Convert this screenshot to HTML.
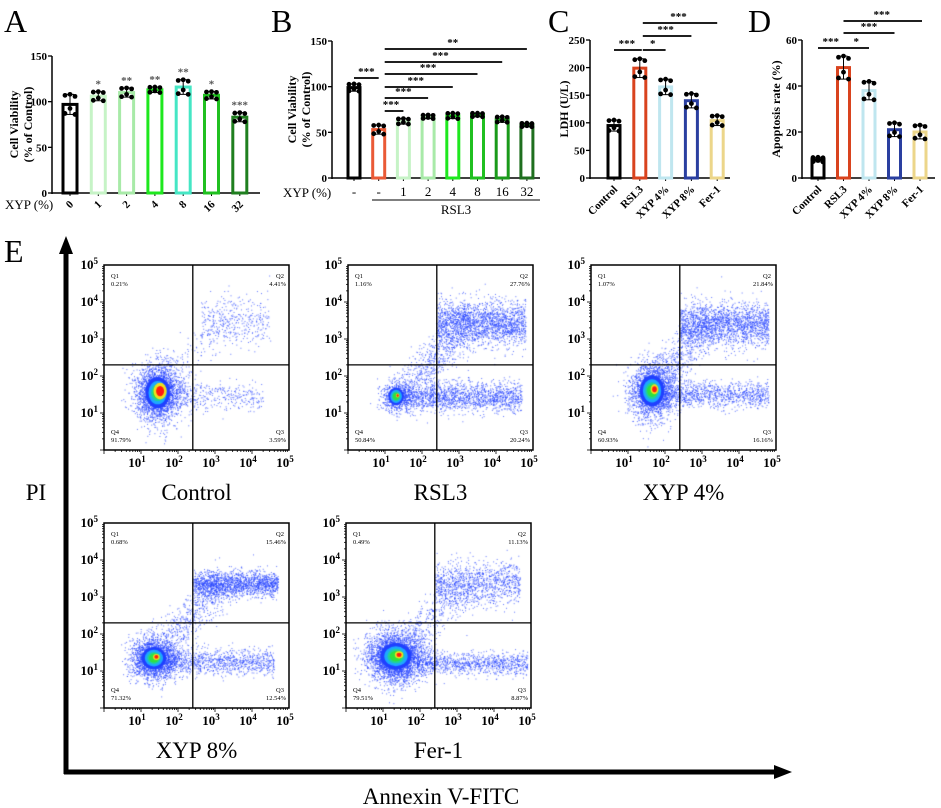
<!DOCTYPE html>
<html><head><meta charset="utf-8">
<style>
html,body{margin:0;padding:0;background:#fff;}
#wrap{position:relative;width:941px;height:808px;overflow:hidden;font-family:"Liberation Serif",serif;}
svg{position:absolute;left:0;top:0;}
svg text{font-family:"Liberation Serif",serif;}
canvas{position:absolute;left:0;top:0;}
</style></head>
<body>
<div id="wrap">
<canvas id="cv" width="941" height="808"></canvas>
<svg id="sv" width="941" height="808" xmlns="http://www.w3.org/2000/svg"></svg>
</div>
<script>
// ---------- data ----------
const aCats = ["0","1","2","4","8","16","32"];
const aVals = [97,106,110,113,116,107,83];
const aErr = [11,5,5,3,8,4,5];
const aStars = ["","*","**","**","**","*","***"];
const aColors = ["#000","#c6f3c6","#a8eaa8","#1ee81e","#45e6c4","#20c020","#1f7f1f"];

const bCats = ["-","-","1","2","4","8","16","32"];
const bVals = [99,53,62,67,68,69,64,58];
const bErr = [4,5,3,2,3,2,3,2];
const bColors = ["#000","#ea5a36","#c6f3c6","#a8eaa8","#1ee81e","#20c020","#1a9a1a","#1f6f1f"];

const cCats = ["Control","RSL3","XYP 4%","XYP 8%","Fer-1"];
const cVals = [95,199,165,140,104];
const cErr = [10,17,14,13,9];
const cColors = ["#000","#d9431e","#bfe6ef","#2a3fa0","#ecd68a"];

const dCats = ["Control","RSL3","XYP 4%","XYP 8%","Fer-1"];
const dVals = [8,48,38,21,20];
const dErr = [1,5,4,3,3];
const dColors = ["#000","#d9431e","#bfe6ef","#2a3fa0","#ecd68a"];

const flowNames = ["Control","RSL3","XYP 4%","XYP 8%","Fer-1"];
const q1 = ["0.21%","1.16%","1.07%","0.68%","0.49%"];
const q2 = ["4.41%","27.76%","21.84%","15.46%","11.13%"];
const q3 = ["3.59%","20.24%","16.16%","12.54%","8.87%"];
const q4 = ["91.79%","50.84%","60.93%","71.32%","79.51%"];

// ---------- helpers ----------
const NS="http://www.w3.org/2000/svg";
const sv=document.getElementById('sv');
function mk(tag,attrs,parent){const e=document.createElementNS(NS,tag);for(const k in attrs)e.setAttribute(k,attrs[k]);(parent||sv).appendChild(e);return e;}
function txt(x,y,s,attrs,parent){const t=mk('text',Object.assign({x:x,y:y},attrs||{}),parent);t.textContent=s;return t;}
let seed=12345;function rnd(){seed|=0;seed=seed+0x6D2B79F5|0;let t=Math.imul(seed^seed>>>15,1|seed);t=t+Math.imul(t^t>>>7,61|t)^t;return((t^t>>>14)>>>0)/4294967296;}
function gauss(){let u=rnd()||1e-9,v=rnd();return Math.sqrt(-2*Math.log(u))*Math.cos(2*Math.PI*v);}

// panel letters
[["A",4,32],["B",271,32],["C",548,32],["D",748,32],["E",4,262]].forEach(p=>{
 const t=txt(p[1],p[2],p[0],{'font-size':'32'});
 
 
});

function barChart(cfg,cats,vals,errs,colors){
 const g=mk('g',{});
 
 
 const ys=v=>cfg.y0-(v/cfg.max)*(cfg.y0-cfg.yTop);
 const xs=i=>cfg.x1+i*cfg.step;
 const ya=mk('line',{x1:cfg.ax,y1:cfg.yTop,x2:cfg.ax,y2:cfg.y0+1,stroke:'#000','stroke-width':1.5},g);
 
 const xa=mk('line',{x1:cfg.ax,y1:cfg.y0,x2:cfg.xEnd,y2:cfg.y0,stroke:'#000','stroke-width':1.5},g);
 
 cfg.ticks.forEach(t=>{
  mk('line',{x1:cfg.ax-4,y1:ys(t),x2:cfg.ax,y2:ys(t),stroke:'#000','stroke-width':1.3},g);
  const tl=txt(cfg.ax-5,ys(t)+4,String(t),{'font-size':'11','font-weight':'bold','text-anchor':'end'},g);
  
 });
 cats.forEach((c,i)=>{
  const x=xs(i),v=vals[i],col=colors[i];
  mk('line',{x1:x,y1:cfg.y0,x2:x,y2:cfg.y0+3,stroke:'#000'},g);
  const r=mk('rect',{x:x-cfg.bw/2+1.5,y:ys(v),width:cfg.bw-3,height:cfg.y0-ys(v),fill:'none',stroke:col,'stroke-width':3},g);
  
  const e=errs[i];
  mk('line',{x1:x,y1:ys(v+e),x2:x,y2:ys(Math.max(0,v-e)),stroke:'#000','stroke-width':1},g);
  mk('line',{x1:x-4,y1:ys(v+e),x2:x+4,y2:ys(v+e),stroke:'#000','stroke-width':1},g);
  mk('line',{x1:x-4,y1:ys(Math.max(0,v-e)),x2:x+4,y2:ys(Math.max(0,v-e)),stroke:'#000','stroke-width':1},g);
  const offs=[[-5,0.9],[0,1.0],[5,0.8],[-5,-0.9],[0,-0.4],[5,-1.0]];
  offs.forEach(o=>{mk('circle',{cx:x+o[0],cy:ys(v+o[1]*e),r:2.4,fill:'#000'},g);});
  if(cfg.rot){
   const l=txt(x+4,cfg.y0+12,c,{'font-size':'11','font-weight':'bold','text-anchor':'end',transform:'rotate(-45 '+(x+4)+' '+(cfg.y0+12)+')'},g);
   
  } else {
   const l=txt(x,cfg.y0+18,c,{'font-size':'13','text-anchor':'middle'},g);
   
  }
  if(cfg.stars&&cfg.stars[i]){txt(x,ys(v+e)-4,cfg.stars[i],{'font-size':'11','font-weight':'bold','fill':'#555','text-anchor':'middle'},g);}
 });
 const cy=(cfg.y0+cfg.yTop)/2;
 const yt=txt(0,0,'',{'font-size':'12','font-weight':'bold','text-anchor':'middle',transform:'translate('+cfg.ytx+','+cy+') rotate(-90)'},g);
 
 cfg.ytitle.forEach((s,k)=>{const ts=mk('tspan',{x:0,dy:k==0?0:14},yt);ts.textContent=s;});
 (cfg.sig||[]).forEach(s=>{
  const ly=s[2];
  mk('line',{x1:xs(s[0])-(s[4]||0),y1:ly,x2:xs(s[1])+(s[5]||0),y2:ly,stroke:'#000','stroke-width':1.8},g);
  txt((xs(s[0])+xs(s[1]))/2,ly-3,s[3],{'font-size':'11','font-weight':'bold','text-anchor':'middle'},g);
 });
 return {g,xs,ys};
}

barChart({name:'chart-a',ax:52,y0:193,yTop:56,max:150,ticks:[0,50,100,150],x1:70,step:28.3,bw:17,xEnd:260,rot:true,ytx:18,ytitle:['Cell Viability','(% of Control)'],stars:aStars},aCats,aVals,aErr,aColors);
txt(5,209,'XYP (%)',{'font-size':'13'});

barChart({name:'chart-b',ax:332,y0:178,yTop:41,max:150,ticks:[0,50,100,150],x1:354,step:24.7,bw:15,xEnd:540,rot:false,ytx:296,ytitle:['Cell Viability','(% of Control)'],
 sig:[[0,1,78,'***'],[1,2,111,'***',-6,0],[1,3,98,'***',-6,0],[1,4,87,'***',-6,0],[1,5,74,'***',-6,0],[1,6,62,'***',-6,0],[1,7,49,'**',-6,0]]},bCats,bVals,bErr,bColors);
txt(283,197,'XYP (%)',{'font-size':'13'});
mk('line',{x1:372,y1:200,x2:540,y2:200,stroke:'#333','stroke-width':1.2});
txt(456,214,'RSL3',{'font-size':'13','text-anchor':'middle'});

barChart({name:'chart-c',ax:590,y0:178,yTop:40,max:250,ticks:[0,50,100,150,200,250],x1:614,step:25.8,bw:15,xEnd:730,rot:true,ytx:568,ytitle:['LDH (U/L)'],
 sig:[[0,1,50,'***',0,2],[1,2,50,'*',-3,0],[1,3,36,'***',-3,0],[1,4,23,'***',-3,0]]},cCats,cVals,cErr,cColors);
barChart({name:'chart-d',ax:802,y0:178,yTop:40,max:60,ticks:[0,20,40,60],x1:818,step:25.5,bw:15,xEnd:935,rot:true,ytx:780,ytitle:['Apoptosis rate (%)'],
 sig:[[0,1,48,'***'],[1,2,48,'*'],[1,3,33,'***'],[1,4,21,'***',0,2]]},dCats,dVals,dErr,dColors);

// ---------- flow plots ----------
const cv=document.getElementById('cv').getContext('2d');
const plots=[[104,265],[348,265],[591,265],[104,523],[346,523]];
const S=185,dec=S/5;
const cores=[[1.45,1.55,0.22,0.28,2600],[1.3,1.45,0.14,0.16,700],[1.65,1.6,0.22,0.28,2000],[1.35,1.35,0.22,0.2,2400],[1.35,1.4,0.28,0.24,3400]];
const bandsQ3=[[1.9,4.3,1.45,0.2,350],[1.5,4.7,1.45,0.2,1700],[1.8,4.8,1.5,0.18,1100],[1.7,4.6,1.25,0.18,1000],[1.9,4.9,1.2,0.15,1000]];
const bandsQ2=[[2.6,4.5,3.5,0.35,380],[2.4,4.8,3.45,0.3,2000],[2.4,4.8,3.4,0.3,1900],[2.4,4.7,3.35,0.17,1700],[2.4,4.7,3.35,0.3,1100]];
const coreRed=[0.6,0.25,0.35,0.3,0.3];
const quadX=2.4,quadY=2.3;

function drawFlow(k){
 const x0=plots[k][0],y0=plots[k][1];
 const px=l=>x0+l*dec, py=l=>y0+S-l*dec;
 const c=cores[k],b3=bandsQ3[k],b2=bandsQ2[k];
 cv.fillStyle='rgba(40,70,255,0.75)';
 function dot(lx,ly){if(lx<0.05||lx>4.95||ly<0.05||ly>4.95)return;cv.fillRect(px(lx),py(ly),1,1);}
 for(let i=0;i<c[4];i++)dot(c[0]+gauss()*c[2]*1.4,c[1]+gauss()*c[3]*1.4);
 for(let i=0;i<b3[4];i++)dot(b3[0]+rnd()*(b3[1]-b3[0]),b3[2]+gauss()*b3[3]);
 for(let i=0;i<b2[4];i++)dot(b2[0]+rnd()*(b2[1]-b2[0]),b2[2]+gauss()*b2[3]);
 for(let i=0;i<b2[4]/3;i++){const t=rnd();dot(1.7+t*1.6+gauss()*0.25,1.8+t*1.7+gauss()*0.25);}
 const cx=px(c[0]),cy=py(c[1]),rx=c[2]*dec*1.5,ry=c[3]*dec*1.5;
 const layers=[[1,'#2040ff'],[0.75,'#1fa8ff'],[0.55,'#20d0a0'],[0.4,'#30e040']];
 layers.forEach(L=>{cv.fillStyle=L[1];cv.beginPath();cv.ellipse(cx,cy,rx*L[0],ry*L[0],0,0,Math.PI*2);cv.fill();});
 cv.fillStyle='#f0e020';cv.beginPath();cv.ellipse(cx+rx*0.2,cy-ry*0.1,rx*coreRed[k]*0.9,ry*coreRed[k]*0.9,0,0,Math.PI*2);cv.fill();
 cv.fillStyle='#ff1a10';cv.beginPath();cv.ellipse(cx+rx*0.2,cy-ry*0.1,rx*coreRed[k]*0.55,ry*coreRed[k]*0.55,0,0,Math.PI*2);cv.fill();
 const g=mk('g',{});
 
 
 mk('rect',{x:x0,y:y0,width:S,height:S,fill:'none',stroke:'#000','stroke-width':1.5},g);
 mk('line',{x1:px(quadX),y1:y0,x2:px(quadX),y2:y0+S,stroke:'#000','stroke-width':1.3},g);
 mk('line',{x1:x0,y1:py(quadY),x2:x0+S,y2:py(quadY),stroke:'#000','stroke-width':1.3},g);
 for(let d=0;d<5;d++){for(let m=1;m<=9;m++){const l=d+Math.log10(m);const h=m==1?4:2;
  mk('line',{x1:px(l),y1:y0+S,x2:px(l),y2:y0+S+h,stroke:'#000','stroke-width':0.8},g);
  mk('line',{x1:x0-h,y1:py(l),x2:x0,y2:py(l),stroke:'#000','stroke-width':0.8},g);}}
 for(let d=1;d<=5;d++){
  const t=txt(px(d)-4,y0+S+17,'10',{'font-size':'13','font-weight':'bold','text-anchor':'middle'},g);
  const s=mk('tspan',{dy:-5,'font-size':'9'},t);s.textContent=String(d);
  const t2=txt(x0-6,py(d)+4,'10',{'font-size':'13','font-weight':'bold','text-anchor':'end'},g);
  const s2=mk('tspan',{dy:-5,'font-size':'9'},t2);s2.textContent=String(d);
 }
 const fs={'font-size':'6.5'};
 txt(x0+7,y0+13,'Q1',fs,g);txt(x0+7,y0+21,q1[k],fs,g);
 txt(x0+S-5,y0+13,'Q2',Object.assign({'text-anchor':'end'},fs),g);txt(x0+S-3,y0+21,q2[k],Object.assign({'text-anchor':'end'},fs),g);
 txt(x0+7,y0+S-16,'Q4',fs,g);txt(x0+7,y0+S-8,q4[k],fs,g);
 txt(x0+S-5,y0+S-16,'Q3',Object.assign({'text-anchor':'end'},fs),g);txt(x0+S-3,y0+S-8,q3[k],Object.assign({'text-anchor':'end'},fs),g);
 const cap=txt(x0+S/2,y0+S+50,flowNames[k],{'font-size':'23','text-anchor':'middle'},g);
 
}
for(let k=0;k<5;k++)drawFlow(k);

const va=mk('line',{x1:66,y1:250,x2:66,y2:774,stroke:'#000','stroke-width':5});

mk('polygon',{points:'66,236 59,254 73,254',fill:'#000'});
const ha=mk('line',{x1:64,y1:772,x2:778,y2:772,stroke:'#000','stroke-width':5});

mk('polygon',{points:'792,772 774,765 774,779',fill:'#000'});
const pil=txt(36,500,'PI',{'font-size':'23','text-anchor':'middle'});

const anl=txt(441,804,'Annexin V-FITC',{'font-size':'23','text-anchor':'middle'});

</script>
</body></html>
